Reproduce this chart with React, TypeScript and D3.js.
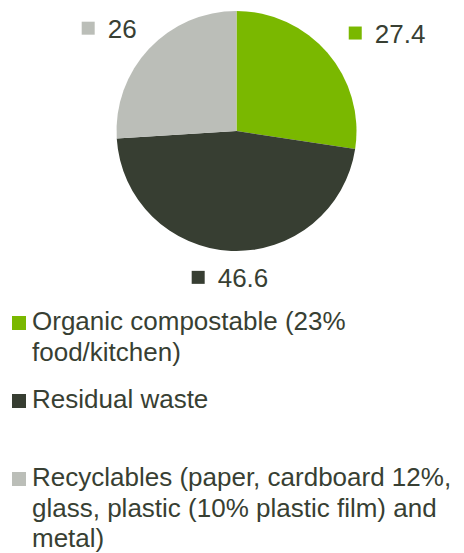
import React, { useEffect, useRef } from "react";
import * as d3 from "d3";

const categories = [
  "Organic compostable (23% food/kitchen)",
  "Residual waste",
  "Recyclables (paper, cardboard 12%, glass, plastic (10% plastic film) and metal)",
];
const values = [27.4, 46.6, 26];
const colors = ["#7ab800", "#373e32", "#bbbeb8"];

const W = 464;
const H = 553;
const FONT = "'Liberation Sans', Arial, sans-serif";
const TEXT_COLOR = "#383f33";

export default function App() {
  const ref = useRef<SVGSVGElement | null>(null);

  useEffect(() => {
    const svg = d3.select(ref.current);
    svg.selectAll("*").remove();

    const cx = 236.5;
    const cy = 131;
    const r = 120;

    const pie = d3.pie<number>().sort(null).value((d) => d);
    const arcs = pie(values);
    const arc = d3.arc<d3.PieArcDatum<number>>().innerRadius(0).outerRadius(r);
    const labelArc = d3.arc<d3.PieArcDatum<number>>().innerRadius(148).outerRadius(148);

    const g = svg.append("g").attr("transform", `translate(${cx},${cy})`);
    g.selectAll("path")
      .data(arcs)
      .join("path")
      .attr("d", arc)
      .attr("fill", (_, i) => colors[i]);

    // data labels
    const sq = 13;
    const gap = 13;
    arcs.forEach((a, i) => {
      const [lx, ly] = labelArc.centroid(a);
      const lg = g.append("g");
      const t = lg
        .append("text")
        .text(String(values[i]))
        .attr("font-family", FONT)
        .attr("font-size", 26)
        .attr("fill", TEXT_COLOR);
      const tw = (t.node() as SVGTextElement).getComputedTextLength();
      const total = sq + gap + tw;
      let x0: number;
      if (lx > 20) x0 = lx;
      else if (lx < -20) x0 = lx + 8 - total;
      else x0 = lx - total / 2;
      const baseline = ly + 8;
      lg.append("rect")
        .attr("x", x0)
        .attr("y", baseline - 16)
        .attr("width", sq)
        .attr("height", sq)
        .attr("fill", colors[i]);
      t.attr("x", x0 + sq + gap).attr("y", baseline);
    });

    // legend
    const legendX = 12;
    const textX = 32;
    const firstBaseline = 330;
    const step = 78;
    const lineH = 30.5;
    const maxW = W - textX - 2;
    categories.forEach((c, i) => {
      const base = firstBaseline + i * step;
      svg
        .append("rect")
        .attr("x", legendX)
        .attr("y", base - 14)
        .attr("width", 14)
        .attr("height", 14)
        .attr("fill", colors[i]);
      const t = svg
        .append("text")
        .attr("font-family", FONT)
        .attr("font-size", 26)
        .attr("fill", TEXT_COLOR)
        .attr("x", textX)
        .attr("y", base);
      const words = c.split(" ");
      let line: string[] = [];
      let lineNo = 0;
      let ts = t.append("tspan").attr("x", textX).attr("y", base);
      words.forEach((w) => {
        line.push(w);
        ts.text(line.join(" "));
        if ((ts.node() as SVGTSpanElement).getComputedTextLength() > maxW && line.length > 1) {
          line.pop();
          ts.text(line.join(" "));
          line = [w];
          lineNo++;
          ts = t
            .append("tspan")
            .attr("x", textX)
            .attr("y", base + lineNo * lineH)
            .text(w);
        }
      });
    });
  }, []);

  return (
    <svg
      ref={ref}
      width={W}
      height={H}
      style={{ position: "absolute", left: 0, top: 0, background: "#fff" }}
    />
  );
}
